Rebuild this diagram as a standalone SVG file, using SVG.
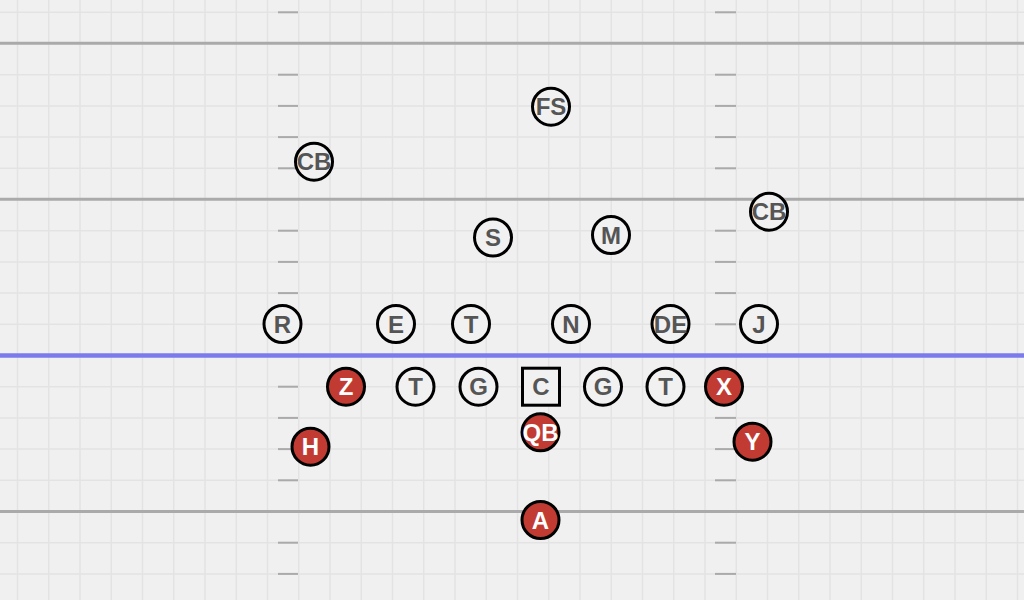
<svg xmlns="http://www.w3.org/2000/svg" width="1024" height="600" viewBox="0 0 1024 600">
<defs>
<style>
.grid line{stroke:#e3e3e3;stroke-width:1.5}
.yard{stroke:#aaaaaa;stroke-width:3}
.los{stroke:#7b7bee;stroke-width:4.5}
.hash line{stroke:#aaaaaa;stroke-width:2}
.def circle{fill:#f1f1f1;stroke:#000;stroke-width:3}
.def rect{fill:#f1f1f1;stroke:#000;stroke-width:3}
.off circle{fill:#c23b33;stroke:#000;stroke-width:3}
text{font-family:"Liberation Sans",Arial,sans-serif;font-weight:bold;font-size:24px;text-anchor:middle;dominant-baseline:central}
.def text{fill:#555555}
.off text{fill:#ffffff}
</style>
</defs>
<rect width="1024" height="600" fill="#f0f0f0"/>
<g class="grid" id="grid">
<line x1="17.5" y1="0" x2="17.5" y2="600"/><line x1="48.75" y1="0" x2="48.75" y2="600"/><line x1="80" y1="0" x2="80" y2="600"/><line x1="111.25" y1="0" x2="111.25" y2="600"/><line x1="142.5" y1="0" x2="142.5" y2="600"/><line x1="173.75" y1="0" x2="173.75" y2="600"/><line x1="205" y1="0" x2="205" y2="600"/><line x1="236.25" y1="0" x2="236.25" y2="600"/><line x1="267.5" y1="0" x2="267.5" y2="600"/><line x1="298.75" y1="0" x2="298.75" y2="600"/><line x1="330" y1="0" x2="330" y2="600"/><line x1="361.25" y1="0" x2="361.25" y2="600"/><line x1="392.5" y1="0" x2="392.5" y2="600"/><line x1="423.75" y1="0" x2="423.75" y2="600"/><line x1="455" y1="0" x2="455" y2="600"/><line x1="486.25" y1="0" x2="486.25" y2="600"/><line x1="517.5" y1="0" x2="517.5" y2="600"/><line x1="548.75" y1="0" x2="548.75" y2="600"/><line x1="580" y1="0" x2="580" y2="600"/><line x1="611.25" y1="0" x2="611.25" y2="600"/><line x1="642.5" y1="0" x2="642.5" y2="600"/><line x1="673.75" y1="0" x2="673.75" y2="600"/><line x1="705" y1="0" x2="705" y2="600"/><line x1="736.25" y1="0" x2="736.25" y2="600"/><line x1="767.5" y1="0" x2="767.5" y2="600"/><line x1="798.75" y1="0" x2="798.75" y2="600"/><line x1="830" y1="0" x2="830" y2="600"/><line x1="861.25" y1="0" x2="861.25" y2="600"/><line x1="892.5" y1="0" x2="892.5" y2="600"/><line x1="923.75" y1="0" x2="923.75" y2="600"/><line x1="955" y1="0" x2="955" y2="600"/><line x1="986.25" y1="0" x2="986.25" y2="600"/><line x1="1017.5" y1="0" x2="1017.5" y2="600"/>
<line x1="0" y1="12.3" x2="1024" y2="12.3"/><line x1="0" y1="74.7" x2="1024" y2="74.7"/><line x1="0" y1="105.9" x2="1024" y2="105.9"/><line x1="0" y1="137.1" x2="1024" y2="137.1"/><line x1="0" y1="168.3" x2="1024" y2="168.3"/><line x1="0" y1="230.7" x2="1024" y2="230.7"/><line x1="0" y1="261.9" x2="1024" y2="261.9"/><line x1="0" y1="293.1" x2="1024" y2="293.1"/><line x1="0" y1="324.3" x2="1024" y2="324.3"/><line x1="0" y1="386.7" x2="1024" y2="386.7"/><line x1="0" y1="417.9" x2="1024" y2="417.9"/><line x1="0" y1="449.1" x2="1024" y2="449.1"/><line x1="0" y1="480.3" x2="1024" y2="480.3"/><line x1="0" y1="542.7" x2="1024" y2="542.7"/><line x1="0" y1="573.9" x2="1024" y2="573.9"/>
</g>
<g id="yard-lines">
<line class="yard" x1="0" y1="43.3" x2="1024" y2="43.3"/>
<line class="yard" x1="0" y1="199.3" x2="1024" y2="199.3"/>
<line class="yard" x1="0" y1="511.5" x2="1024" y2="511.5"/>
<line class="los" x1="0" y1="355.5" x2="1024" y2="355.5"/>
</g>
<g class="hash" id="hash-marks">
<line x1="278" y1="12.3" x2="298" y2="12.3"/><line x1="278" y1="74.7" x2="298" y2="74.7"/><line x1="278" y1="105.9" x2="298" y2="105.9"/><line x1="278" y1="137.1" x2="298" y2="137.1"/><line x1="278" y1="168.3" x2="298" y2="168.3"/><line x1="278" y1="230.7" x2="298" y2="230.7"/><line x1="278" y1="261.9" x2="298" y2="261.9"/><line x1="278" y1="293.1" x2="298" y2="293.1"/><line x1="278" y1="324.3" x2="298" y2="324.3"/><line x1="278" y1="386.7" x2="298" y2="386.7"/><line x1="278" y1="417.9" x2="298" y2="417.9"/><line x1="278" y1="449.1" x2="298" y2="449.1"/><line x1="278" y1="480.3" x2="298" y2="480.3"/><line x1="278" y1="542.7" x2="298" y2="542.7"/><line x1="278" y1="573.9" x2="298" y2="573.9"/>
<line x1="715" y1="12.3" x2="736" y2="12.3"/><line x1="715" y1="74.7" x2="736" y2="74.7"/><line x1="715" y1="105.9" x2="736" y2="105.9"/><line x1="715" y1="137.1" x2="736" y2="137.1"/><line x1="715" y1="168.3" x2="736" y2="168.3"/><line x1="715" y1="230.7" x2="736" y2="230.7"/><line x1="715" y1="261.9" x2="736" y2="261.9"/><line x1="715" y1="293.1" x2="736" y2="293.1"/><line x1="715" y1="324.3" x2="736" y2="324.3"/><line x1="715" y1="386.7" x2="736" y2="386.7"/><line x1="715" y1="417.9" x2="736" y2="417.9"/><line x1="715" y1="449.1" x2="736" y2="449.1"/><line x1="715" y1="480.3" x2="736" y2="480.3"/><line x1="715" y1="542.7" x2="736" y2="542.7"/><line x1="715" y1="573.9" x2="736" y2="573.9"/>
</g>
<g id="connectors"></g>
<g id="defense" class="def">
<g id="FS"><circle cx="551" cy="106.7" r="18.5"/><text x="551" y="106.7">FS</text></g>
<g id="CB-left"><circle cx="314" cy="161.7" r="18.5"/><text x="314" y="161.7">CB</text></g>
<g id="CB-right"><circle cx="769" cy="211.7" r="18.5"/><text x="769" y="211.7">CB</text></g>
<g id="S"><circle cx="493" cy="237.5" r="18.5"/><text x="493" y="237.5">S</text></g>
<g id="M"><circle cx="611" cy="235" r="18.5"/><text x="611" y="235">M</text></g>
<g id="R"><circle cx="282.5" cy="324" r="18.5"/><text x="282.5" y="324">R</text></g>
<g id="E"><circle cx="396" cy="324" r="18.5"/><text x="396" y="324">E</text></g>
<g id="T-def"><circle cx="471" cy="324" r="18.5"/><text x="471" y="324">T</text></g>
<g id="N"><circle cx="571" cy="324" r="18.5"/><text x="571" y="324">N</text></g>
<g id="DE"><circle cx="670.5" cy="324" r="18.5"/><text x="670.5" y="324">DE</text></g>
<g id="J"><circle cx="759" cy="324" r="18.5"/><text x="759" y="324">J</text></g>
</g>
<g id="offense-line" class="def">
<g id="T-left"><circle cx="415.5" cy="386.7" r="18.5"/><text x="415.5" y="386.7">T</text></g>
<g id="G-left"><circle cx="478.5" cy="386.7" r="18.5"/><text x="478.5" y="386.7">G</text></g>
<g id="C"><rect x="522.5" y="368.2" width="37" height="37"/><text x="541" y="386.7">C</text></g>
<g id="G-right"><circle cx="603" cy="386.7" r="18.5"/><text x="603" y="386.7">G</text></g>
<g id="T-right"><circle cx="665.5" cy="386.7" r="18.5"/><text x="665.5" y="386.7">T</text></g>
</g>
<g id="offense" class="off">
<g id="Z"><circle cx="346" cy="386.7" r="18.5"/><text x="346" y="386.7">Z</text></g>
<g id="X"><circle cx="724" cy="386.7" r="18.5"/><text x="724" y="386.7">X</text></g>
<g id="QB"><circle cx="540.5" cy="432.3" r="18.5"/><text x="540.5" y="432.3">QB</text></g>
<g id="H"><circle cx="310.5" cy="446.7" r="18.5"/><text x="310.5" y="446.7">H</text></g>
<g id="Y"><circle cx="752.5" cy="441.7" r="18.5"/><text x="752.5" y="441.7">Y</text></g>
<g id="A"><circle cx="540.5" cy="520" r="18.5"/><text x="540.5" y="520">A</text></g>
</g>
</svg>
